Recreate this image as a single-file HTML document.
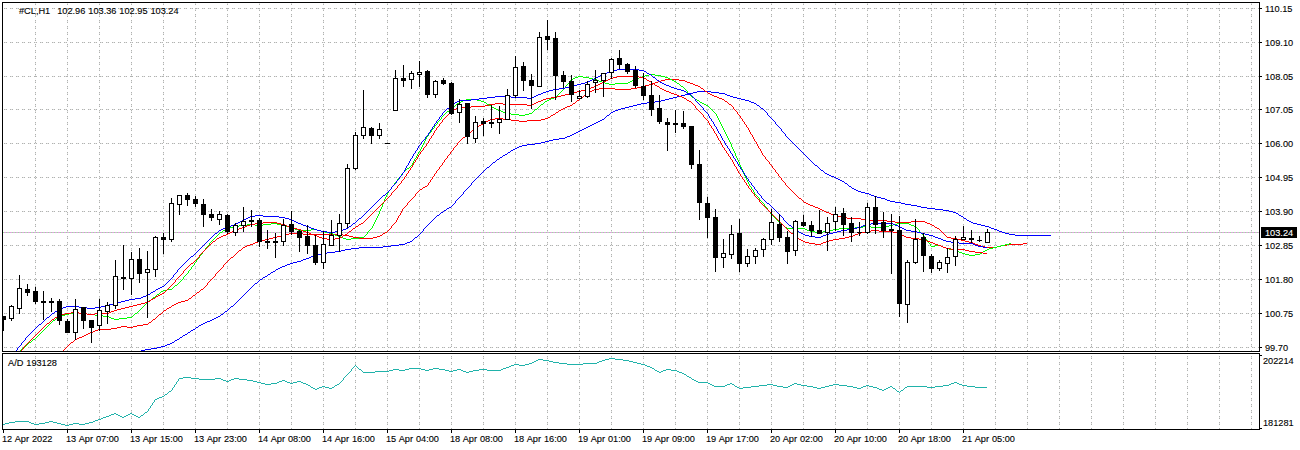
<!DOCTYPE html>
<html><head><meta charset="utf-8"><title>#CL,H1</title>
<style>
html,body{margin:0;padding:0;background:#fff;}
body{width:1300px;height:450px;overflow:hidden;position:relative;font-family:"Liberation Sans",sans-serif;}
svg{position:absolute;left:0;top:0;display:block;}
text{font-family:"Liberation Sans",sans-serif;font-size:9.8px;fill:#000;stroke:#000;stroke-width:0.12px;word-spacing:0.4px;}
</style></head><body>
<svg width="1300" height="450" viewBox="0 0 1300 450">
<rect x="0" y="0" width="1300" height="450" fill="#fff"/>

<g shape-rendering="crispEdges" stroke="#e0e0e0" stroke-width="1" stroke-dasharray="3 3" fill="none">
<line x1="35.5" y1="2" x2="35.5" y2="429"/>
<line x1="67.5" y1="2" x2="67.5" y2="429"/>
<line x1="99.5" y1="2" x2="99.5" y2="429"/>
<line x1="131.5" y1="2" x2="131.5" y2="429"/>
<line x1="163.5" y1="2" x2="163.5" y2="429"/>
<line x1="195.5" y1="2" x2="195.5" y2="429"/>
<line x1="227.5" y1="2" x2="227.5" y2="429"/>
<line x1="259.5" y1="2" x2="259.5" y2="429"/>
<line x1="291.5" y1="2" x2="291.5" y2="429"/>
<line x1="323.5" y1="2" x2="323.5" y2="429"/>
<line x1="355.5" y1="2" x2="355.5" y2="429"/>
<line x1="387.5" y1="2" x2="387.5" y2="429"/>
<line x1="419.5" y1="2" x2="419.5" y2="429"/>
<line x1="451.5" y1="2" x2="451.5" y2="429"/>
<line x1="483.5" y1="2" x2="483.5" y2="429"/>
<line x1="515.5" y1="2" x2="515.5" y2="429"/>
<line x1="547.5" y1="2" x2="547.5" y2="429"/>
<line x1="579.5" y1="2" x2="579.5" y2="429"/>
<line x1="611.5" y1="2" x2="611.5" y2="429"/>
<line x1="643.5" y1="2" x2="643.5" y2="429"/>
<line x1="675.5" y1="2" x2="675.5" y2="429"/>
<line x1="707.5" y1="2" x2="707.5" y2="429"/>
<line x1="739.5" y1="2" x2="739.5" y2="429"/>
<line x1="771.5" y1="2" x2="771.5" y2="429"/>
<line x1="803.5" y1="2" x2="803.5" y2="429"/>
<line x1="835.5" y1="2" x2="835.5" y2="429"/>
<line x1="867.5" y1="2" x2="867.5" y2="429"/>
<line x1="899.5" y1="2" x2="899.5" y2="429"/>
<line x1="931.5" y1="2" x2="931.5" y2="429"/>
<line x1="963.5" y1="2" x2="963.5" y2="429"/>
<line x1="995.5" y1="2" x2="995.5" y2="429"/>
<line x1="1027.5" y1="2" x2="1027.5" y2="429"/>
<line x1="1059.5" y1="2" x2="1059.5" y2="429"/>
<line x1="1091.5" y1="2" x2="1091.5" y2="429"/>
<line x1="1123.5" y1="2" x2="1123.5" y2="429"/>
<line x1="1155.5" y1="2" x2="1155.5" y2="429"/>
<line x1="1187.5" y1="2" x2="1187.5" y2="429"/>
<line x1="1219.5" y1="2" x2="1219.5" y2="429"/>
<line x1="1251.5" y1="2" x2="1251.5" y2="429"/>
<line x1="4" y1="8.5" x2="1259" y2="8.5"/>
<line x1="4" y1="42.5" x2="1259" y2="42.5"/>
<line x1="4" y1="76.5" x2="1259" y2="76.5"/>
<line x1="4" y1="109.5" x2="1259" y2="109.5"/>
<line x1="4" y1="143.5" x2="1259" y2="143.5"/>
<line x1="4" y1="177.5" x2="1259" y2="177.5"/>
<line x1="4" y1="211.5" x2="1259" y2="211.5"/>
<line x1="4" y1="245.5" x2="1259" y2="245.5"/>
<line x1="4" y1="279.5" x2="1259" y2="279.5"/>
<line x1="4" y1="313.5" x2="1259" y2="313.5"/>
<line x1="4" y1="347.5" x2="1259" y2="347.5"/>
</g>
<g shape-rendering="crispEdges" stroke="#b0b2b0" stroke-width="1" stroke-dasharray="1 1 1 3" fill="none">
<line x1="35.5" y1="2" x2="35.5" y2="429"/>
<line x1="67.5" y1="2" x2="67.5" y2="429"/>
<line x1="99.5" y1="2" x2="99.5" y2="429"/>
<line x1="131.5" y1="2" x2="131.5" y2="429"/>
<line x1="163.5" y1="2" x2="163.5" y2="429"/>
<line x1="195.5" y1="2" x2="195.5" y2="429"/>
<line x1="227.5" y1="2" x2="227.5" y2="429"/>
<line x1="259.5" y1="2" x2="259.5" y2="429"/>
<line x1="291.5" y1="2" x2="291.5" y2="429"/>
<line x1="323.5" y1="2" x2="323.5" y2="429"/>
<line x1="355.5" y1="2" x2="355.5" y2="429"/>
<line x1="387.5" y1="2" x2="387.5" y2="429"/>
<line x1="419.5" y1="2" x2="419.5" y2="429"/>
<line x1="451.5" y1="2" x2="451.5" y2="429"/>
<line x1="483.5" y1="2" x2="483.5" y2="429"/>
<line x1="515.5" y1="2" x2="515.5" y2="429"/>
<line x1="547.5" y1="2" x2="547.5" y2="429"/>
<line x1="579.5" y1="2" x2="579.5" y2="429"/>
<line x1="611.5" y1="2" x2="611.5" y2="429"/>
<line x1="643.5" y1="2" x2="643.5" y2="429"/>
<line x1="675.5" y1="2" x2="675.5" y2="429"/>
<line x1="707.5" y1="2" x2="707.5" y2="429"/>
<line x1="739.5" y1="2" x2="739.5" y2="429"/>
<line x1="771.5" y1="2" x2="771.5" y2="429"/>
<line x1="803.5" y1="2" x2="803.5" y2="429"/>
<line x1="835.5" y1="2" x2="835.5" y2="429"/>
<line x1="867.5" y1="2" x2="867.5" y2="429"/>
<line x1="899.5" y1="2" x2="899.5" y2="429"/>
<line x1="931.5" y1="2" x2="931.5" y2="429"/>
<line x1="963.5" y1="2" x2="963.5" y2="429"/>
<line x1="995.5" y1="2" x2="995.5" y2="429"/>
<line x1="1027.5" y1="2" x2="1027.5" y2="429"/>
<line x1="1059.5" y1="2" x2="1059.5" y2="429"/>
<line x1="1091.5" y1="2" x2="1091.5" y2="429"/>
<line x1="1123.5" y1="2" x2="1123.5" y2="429"/>
<line x1="1155.5" y1="2" x2="1155.5" y2="429"/>
<line x1="1187.5" y1="2" x2="1187.5" y2="429"/>
<line x1="1219.5" y1="2" x2="1219.5" y2="429"/>
<line x1="1251.5" y1="2" x2="1251.5" y2="429"/>
<line x1="4" y1="8.5" x2="1259" y2="8.5"/>
<line x1="4" y1="42.5" x2="1259" y2="42.5"/>
<line x1="4" y1="76.5" x2="1259" y2="76.5"/>
<line x1="4" y1="109.5" x2="1259" y2="109.5"/>
<line x1="4" y1="143.5" x2="1259" y2="143.5"/>
<line x1="4" y1="177.5" x2="1259" y2="177.5"/>
<line x1="4" y1="211.5" x2="1259" y2="211.5"/>
<line x1="4" y1="245.5" x2="1259" y2="245.5"/>
<line x1="4" y1="279.5" x2="1259" y2="279.5"/>
<line x1="4" y1="313.5" x2="1259" y2="313.5"/>
<line x1="4" y1="347.5" x2="1259" y2="347.5"/>
</g>
<rect x="0" y="352" width="1300" height="1" fill="#fff" shape-rendering="crispEdges"/>
<rect x="3" y="232" width="1256" height="1" fill="#dca4dc" shape-rendering="crispEdges"/>
<line x1="3" y1="232.5" x2="1259" y2="232.5" stroke="#98e498" stroke-width="1" stroke-dasharray="1 2" shape-rendering="crispEdges"/>
<path d="M697 91h14M693 92h4M711 92h8M689 93h4M719 93h6M685 94h4M725 94h2M681 95h4M727 95h3M677 96h4M730 96h3M673 97h4M733 97h4M669 98h4M737 98h4M665 99h4M741 99h4M661 100h4M745 100h4M655 101h6M749 101h2M647 102h8M751 102h3M641 103h6M754 103h2M637 104h4M756 104h1M633 105h4M757 105h2M629 106h4M759 106h1M625 107h4M760 107h1M621 108h4M761 108h2M618 109h3M763 109h1M615 110h3M764 110h1M613 111h2M765 111h1M611 112h2M766 112h1M610 113h1M767 113h1M609 114h1M767 114h1M607 115h2M768 115h1M606 116h1M769 116h1M605 117h1M770 117h1M604 118h1M771 118h1M602 119h2M772 119h1M600 120h2M773 120h1M598 121h2M774 121h1M596 122h2M775 122h1M594 123h2M775 123h1M592 124h2M776 124h1M590 125h2M777 125h1M588 126h2M778 126h1M586 127h2M779 127h1M584 128h2M780 128h1M582 129h2M781 129h1M580 130h2M781 130h1M578 131h2M782 131h1M576 132h2M783 132h1M574 133h2M784 133h1M572 134h2M785 134h1M570 135h2M785 135h1M567 136h3M786 136h1M565 137h2M787 137h1M559 138h6M788 138h1M553 139h6M789 139h1M549 140h4M790 140h1M545 141h4M791 141h1M541 142h4M792 142h1M535 143h6M793 143h1M527 144h8M794 144h1M522 145h5M795 145h1M519 146h3M796 146h1M517 147h2M797 147h1M515 148h2M798 148h1M513 149h2M799 149h1M511 150h2M800 150h1M510 151h1M801 151h1M508 152h2M802 152h1M507 153h1M803 153h1M505 154h2M804 154h1M503 155h2M805 155h1M502 156h1M806 156h1M500 157h2M807 157h1M499 158h1M808 158h1M497 159h2M809 159h1M496 160h1M810 160h1M495 161h1M811 161h1M493 162h2M812 162h1M492 163h1M813 163h1M491 164h1M814 164h1M490 165h1M815 165h2M489 166h1M817 166h1M487 167h2M818 167h1M486 168h1M819 168h1M485 169h1M820 169h1M484 170h1M821 170h2M483 171h1M823 171h1M482 172h1M824 172h1M481 173h1M825 173h2M480 174h1M827 174h2M479 175h1M829 175h2M478 176h1M831 176h3M477 177h1M834 177h2M476 178h1M836 178h2M475 179h1M838 179h2M474 180h1M840 180h2M473 181h1M842 181h2M472 182h1M844 182h1M471 183h1M845 183h2M471 184h1M847 184h1M470 185h1M848 185h1M469 186h1M849 186h2M468 187h1M851 187h1M467 188h1M852 188h2M466 189h1M854 189h2M465 190h1M856 190h2M464 191h1M858 191h3M463 192h1M861 192h4M463 193h1M865 193h4M462 194h1M869 194h2M461 195h1M871 195h3M460 196h1M874 196h3M459 197h1M877 197h4M458 198h1M881 198h4M457 199h1M885 199h2M456 200h1M887 200h3M455 201h1M890 201h5M455 202h1M895 202h6M454 203h1M901 203h4M453 204h1M905 204h6M452 205h1M911 205h6M451 206h1M917 206h4M449 207h2M921 207h6M447 208h2M927 208h8M446 209h1M935 209h8M444 210h2M943 210h6M443 211h1M949 211h4M441 212h2M953 212h3M440 213h1M956 213h2M439 214h1M958 214h1M437 215h2M959 215h2M436 216h1M961 216h2M435 217h1M963 217h1M434 218h1M964 218h2M433 219h1M966 219h1M432 220h1M967 220h2M431 221h1M969 221h2M430 222h1M971 222h2M429 223h1M973 223h4M428 224h1M977 224h4M427 225h1M981 225h4M426 226h1M985 226h4M425 227h1M989 227h2M424 228h1M991 228h3M423 229h1M994 229h3M423 230h1M997 230h2M422 231h1M999 231h3M421 232h1M1002 232h3M420 233h1M1005 233h4M419 234h1M1009 234h6M418 235h1M1015 235h36M417 236h1M415 237h2M414 238h1M413 239h1M412 240h1M410 241h2M407 242h3M405 243h2M399 244h6M391 245h8M383 246h8M359 247h24M351 248h8M345 249h6M341 250h4M335 251h6M327 252h8M321 253h6M317 254h4M314 255h3M311 256h3M309 257h2M306 258h3M303 259h3M301 260h2M297 261h4M293 262h4M290 263h3M287 264h3M285 265h2M282 266h3M280 267h2M278 268h2M276 269h2M275 270h1M273 271h2M271 272h2M270 273h1M268 274h2M267 275h1M265 276h2M263 277h2M262 278h1M260 279h2M259 280h1M258 281h1M257 282h1M255 283h2M254 284h1M253 285h1M252 286h1M251 287h1M250 288h1M249 289h1M248 290h1M247 291h1M246 292h1M245 293h1M244 294h1M243 295h1M242 296h1M241 297h1M240 298h1M239 299h1M238 300h1M237 301h1M236 302h1M235 303h1M234 304h1M233 305h1M231 306h2M230 307h1M229 308h1M228 309h1M227 310h1M225 311h2M224 312h1M223 313h1M221 314h2M220 315h1M218 316h2M216 317h2M214 318h2M212 319h2M210 320h2M207 321h3M205 322h2M203 323h2M201 324h2M199 325h2M198 326h1M196 327h2M195 328h1M193 329h2M191 330h2M190 331h1M188 332h2M187 333h1M185 334h2M183 335h2M182 336h1M180 337h2M179 338h1M177 339h2M175 340h2M174 341h1M172 342h2M170 343h2M167 344h3M165 345h2M161 346h4M157 347h4M151 348h6M145 349h6M141 350h4" stroke="#0000ff" stroke-width="1" fill="none" shape-rendering="crispEdges" transform="translate(0,0.5)"/>
<path d="M665 79h14M661 80h4M679 80h6M658 81h3M685 81h2M655 82h3M687 82h3M653 83h2M690 83h3M649 84h4M693 84h2M645 85h4M695 85h3M641 86h4M698 86h2M637 87h4M700 87h1M599 88h16M631 88h6M701 88h2M594 89h5M615 89h16M703 89h1M592 90h2M704 90h1M590 91h2M705 91h2M588 92h2M707 92h1M587 93h1M708 93h2M585 94h2M710 94h2M584 95h1M712 95h2M583 96h1M714 96h3M581 97h2M717 97h2M580 98h1M719 98h3M579 99h1M722 99h2M577 100h2M724 100h1M576 101h1M725 101h2M575 102h1M727 102h1M573 103h2M728 103h1M572 104h1M729 104h2M570 105h2M731 105h1M567 106h3M732 106h1M565 107h2M733 107h1M563 108h2M733 108h1M561 109h2M734 109h1M559 110h2M735 110h1M558 111h1M736 111h1M556 112h2M737 112h1M555 113h1M737 113h1M553 114h2M738 114h1M551 115h2M739 115h1M550 116h1M740 116h1M548 117h2M740 117h1M495 118h8M545 118h3M741 118h1M490 119h5M503 119h8M541 119h4M742 119h1M488 120h2M511 120h8M527 120h14M742 120h1M486 121h2M519 121h8M743 121h1M484 122h2M744 122h1M483 123h1M744 123h1M481 124h2M745 124h1M479 125h2M746 125h1M478 126h1M746 126h1M476 127h2M747 127h1M475 128h1M748 128h1M473 129h2M748 129h1M472 130h1M749 130h1M471 131h1M749 131h1M469 132h2M750 132h1M468 133h1M750 133h1M467 134h1M751 134h1M466 135h1M752 135h1M465 136h1M752 136h1M463 137h2M753 137h1M462 138h1M753 138h1M461 139h1M754 139h1M460 140h1M754 140h1M459 141h1M755 141h1M458 142h1M756 142h1M457 143h1M756 143h1M457 144h1M757 144h1M456 145h1M757 145h1M455 146h1M758 146h1M454 147h1M758 147h1M453 148h1M759 148h1M453 149h1M760 149h1M452 150h1M760 150h1M451 151h1M761 151h1M450 152h1M761 152h1M450 153h1M762 153h1M449 154h1M762 154h1M448 155h1M763 155h1M447 156h1M764 156h1M447 157h1M765 157h1M446 158h1M765 158h1M445 159h1M766 159h1M444 160h1M767 160h1M444 161h1M768 161h1M443 162h1M769 162h1M442 163h1M769 163h1M442 164h1M770 164h1M441 165h1M771 165h1M440 166h1M772 166h1M439 167h1M772 167h1M439 168h1M773 168h1M438 169h1M774 169h1M437 170h1M775 170h1M436 171h1M775 171h1M436 172h1M776 172h1M435 173h1M777 173h1M434 174h1M778 174h1M434 175h1M778 175h1M433 176h1M779 176h1M432 177h1M780 177h1M432 178h1M781 178h1M431 179h1M781 179h1M430 180h1M782 180h1M430 181h1M783 181h1M429 182h1M784 182h1M428 183h1M785 183h1M428 184h1M785 184h1M427 185h1M786 185h1M425 186h2M787 186h1M423 187h2M788 187h1M422 188h1M789 188h1M420 189h2M790 189h1M419 190h1M791 190h1M418 191h1M792 191h1M417 192h1M793 192h1M416 193h1M794 193h1M415 194h1M795 194h1M415 195h1M796 195h1M414 196h1M797 196h1M413 197h1M798 197h1M412 198h1M799 198h2M411 199h1M801 199h1M410 200h1M802 200h1M409 201h1M803 201h1M408 202h1M804 202h2M407 203h1M806 203h2M407 204h1M808 204h2M406 205h1M810 205h3M405 206h1M813 206h2M404 207h1M815 207h3M403 208h1M818 208h2M402 209h1M820 209h2M402 210h1M822 210h2M401 211h1M824 211h2M401 212h1M826 212h3M400 213h1M829 213h2M400 214h1M831 214h3M399 215h1M834 215h3M398 216h1M837 216h4M398 217h1M841 217h6M397 218h1M847 218h14M397 219h1M861 219h4M396 220h1M865 220h22M396 221h1M887 221h8M911 221h14M395 222h1M895 222h16M925 222h2M394 223h1M927 223h3M393 224h1M930 224h2M392 225h1M932 225h2M391 226h1M934 226h1M391 227h1M935 227h2M390 228h1M937 228h2M389 229h1M939 229h1M388 230h1M940 230h1M387 231h1M941 231h1M385 232h2M942 232h1M289 233h14M383 233h2M943 233h1M285 234h4M303 234h40M382 234h1M944 234h1M281 235h4M343 235h6M380 235h2M945 235h1M277 236h4M349 236h4M377 236h3M946 236h1M273 237h4M353 237h6M373 237h4M947 237h4M269 238h4M359 238h14M951 238h6M265 239h4M957 239h4M261 240h4M961 240h4M258 241h3M965 241h4M255 242h3M969 242h4M253 243h2M973 243h2M1023 243h4M250 244h3M975 244h3M1007 244h16M247 245h3M978 245h3M1001 245h6M245 246h2M981 246h4M997 246h4M243 247h2M985 247h12M242 248h1M241 249h1M239 250h2M238 251h1M237 252h1M236 253h1M235 254h1M234 255h1M233 256h1M231 257h2M230 258h1M229 259h1M228 260h1M227 261h1M226 262h1M225 263h1M224 264h1M223 265h1M223 266h1M222 267h1M221 268h1M220 269h1M219 270h1M218 271h1M217 272h1M216 273h1M215 274h1M215 275h1M214 276h1M213 277h1M212 278h1M211 279h1M210 280h1M209 281h1M208 282h1M207 283h1M207 284h1M206 285h1M205 286h1M204 287h1M203 288h1M201 289h2M200 290h1M199 291h1M197 292h2M196 293h1M195 294h1M193 295h2M192 296h1M191 297h1M189 298h2M188 299h1M185 300h3M181 301h4M178 302h3M176 303h2M174 304h2M172 305h2M171 306h1M169 307h2M167 308h2M166 309h1M164 310h2M163 311h1M162 312h1M161 313h1M159 314h2M158 315h1M157 316h1M156 317h1M155 318h1M153 319h2M152 320h1M151 321h1M149 322h2M148 323h1M143 324h5M137 325h6M121 326h6M133 326h4M117 327h4M127 327h6M111 328h6M98 329h13M95 330h3M93 331h2M90 332h3M88 333h2M86 334h2M84 335h2M82 336h2M79 337h3M77 338h2M75 339h2M74 340h1M73 341h1M71 342h2M70 343h1M69 344h1M68 345h1M67 346h1M66 347h1M65 348h1M64 349h1M63 350h1" stroke="#ff0000" stroke-width="1" fill="none" shape-rendering="crispEdges" transform="translate(0,0.5)"/>
<path d="M649 74h6M645 75h4M655 75h6M578 76h5M642 76h3M661 76h4M575 77h3M583 77h6M639 77h3M665 77h3M573 78h2M589 78h4M637 78h2M668 78h2M571 79h2M593 79h4M634 79h3M670 79h2M570 80h1M597 80h2M632 80h2M672 80h2M569 81h1M599 81h3M630 81h2M674 81h2M569 82h1M602 82h3M628 82h2M676 82h1M568 83h1M605 83h4M615 83h13M677 83h2M567 84h1M609 84h6M679 84h1M566 85h1M680 85h1M565 86h1M681 86h2M565 87h1M683 87h1M564 88h1M684 88h1M563 89h1M685 89h1M562 90h1M686 90h1M561 91h1M687 91h1M560 92h1M687 92h1M559 93h1M688 93h1M558 94h1M689 94h1M557 95h1M690 95h1M556 96h1M691 96h1M554 97h2M692 97h2M551 98h3M694 98h1M466 99h11M549 99h2M695 99h2M463 100h3M477 100h4M547 100h2M697 100h2M461 101h2M481 101h3M545 101h2M699 101h1M459 102h2M484 102h2M544 102h1M700 102h2M457 103h2M486 103h1M543 103h1M702 103h2M456 104h1M487 104h2M541 104h2M704 104h2M455 105h1M489 105h2M540 105h1M706 105h2M453 106h2M491 106h1M539 106h1M708 106h1M452 107h1M492 107h2M538 107h1M709 107h1M451 108h1M494 108h2M537 108h1M710 108h1M450 109h1M496 109h2M535 109h2M711 109h1M449 110h1M498 110h3M534 110h1M712 110h1M447 111h2M501 111h2M533 111h1M713 111h1M446 112h1M503 112h3M532 112h1M714 112h1M445 113h1M506 113h5M529 113h3M715 113h1M444 114h1M511 114h8M525 114h4M716 114h1M443 115h1M519 115h6M716 115h1M442 116h1M717 116h1M441 117h1M717 117h1M441 118h1M718 118h1M440 119h1M718 119h1M439 120h1M719 120h1M438 121h1M719 121h1M437 122h1M720 122h1M437 123h1M720 123h1M436 124h1M721 124h1M435 125h1M721 125h1M434 126h1M722 126h1M434 127h1M722 127h1M433 128h1M723 128h1M432 129h1M723 129h1M431 130h1M724 130h1M431 131h1M724 131h1M430 132h1M725 132h1M429 133h1M725 133h1M428 134h1M726 134h1M428 135h1M726 135h1M427 136h1M727 136h1M426 137h1M727 137h1M426 138h1M728 138h1M425 139h1M728 139h1M425 140h1M729 140h1M424 141h1M729 141h1M424 142h1M730 142h1M423 143h1M730 143h1M423 144h1M731 144h1M422 145h1M731 145h1M422 146h1M731 146h1M421 147h1M732 147h1M421 148h1M732 148h1M420 149h1M733 149h1M420 150h1M733 150h1M419 151h1M734 151h1M418 152h1M734 152h1M418 153h1M735 153h1M417 154h1M735 154h1M417 155h1M735 155h1M416 156h1M736 156h1M416 157h1M736 157h1M415 158h1M737 158h1M414 159h1M737 159h1M414 160h1M738 160h1M413 161h1M738 161h1M413 162h1M739 162h1M412 163h1M739 163h1M412 164h1M739 164h1M411 165h1M740 165h1M410 166h1M740 166h1M409 167h1M741 167h1M407 168h2M741 168h1M406 169h1M742 169h1M405 170h1M742 170h1M404 171h1M743 171h1M403 172h1M743 172h1M402 173h1M743 173h1M401 174h1M744 174h1M401 175h1M744 175h1M400 176h1M745 176h1M399 177h1M745 177h1M398 178h1M746 178h1M397 179h1M746 179h1M397 180h1M747 180h1M396 181h1M747 181h1M395 182h1M748 182h1M394 183h1M748 183h1M394 184h1M749 184h1M393 185h1M749 185h1M392 186h1M750 186h1M391 187h1M751 187h1M391 188h1M751 188h1M390 189h1M752 189h1M389 190h1M753 190h1M388 191h1M753 191h1M388 192h1M754 192h1M387 193h1M754 193h1M387 194h1M755 194h1M386 195h1M756 195h1M386 196h1M757 196h1M385 197h1M758 197h1M385 198h1M759 198h1M384 199h1M759 199h1M384 200h1M760 200h1M384 201h1M761 201h1M383 202h1M762 202h1M383 203h1M763 203h1M382 204h1M764 204h1M382 205h1M764 205h1M382 206h1M765 206h1M381 207h1M766 207h1M381 208h1M767 208h1M380 209h1M767 209h1M380 210h1M768 210h1M379 211h1M769 211h1M379 212h1M770 212h1M379 213h1M770 213h1M378 214h1M771 214h1M378 215h1M772 215h1M377 216h1M773 216h1M377 217h1M774 217h1M376 218h1M775 218h1M376 219h1M776 219h1M375 220h1M777 220h1M375 221h1M778 221h1M374 222h1M779 222h1M271 223h6M374 223h1M780 223h1M897 223h12M247 224h8M263 224h8M277 224h4M373 224h1M781 224h2M893 224h4M909 224h2M239 225h8M255 225h8M281 225h4M373 225h1M783 225h1M889 225h4M911 225h3M233 226h6M285 226h4M372 226h1M784 226h1M863 226h8M885 226h4M914 226h2M229 227h4M289 227h4M372 227h1M785 227h2M855 227h8M871 227h14M916 227h1M227 228h2M293 228h2M371 228h1M787 228h18M839 228h16M917 228h1M225 229h2M295 229h3M311 229h6M370 229h1M805 229h2M833 229h6M918 229h1M223 230h2M298 230h13M317 230h4M369 230h1M807 230h3M829 230h4M919 230h1M222 231h1M321 231h4M368 231h1M810 231h5M823 231h6M919 231h1M220 232h2M325 232h4M367 232h1M815 232h8M920 232h1M219 233h1M329 233h4M367 233h1M921 233h1M218 234h1M333 234h2M366 234h1M922 234h1M217 235h1M335 235h3M365 235h1M923 235h1M216 236h1M338 236h3M364 236h1M924 236h1M215 237h1M341 237h2M359 237h5M924 237h1M214 238h1M343 238h3M351 238h8M925 238h1M213 239h1M346 239h5M926 239h1M212 240h1M927 240h1M211 241h1M927 241h1M210 242h1M928 242h1M209 243h1M929 243h1M1009 243h2M209 244h1M930 244h1M1005 244h4M208 245h1M930 245h1M935 245h6M1001 245h4M207 246h1M931 246h4M941 246h2M997 246h4M206 247h1M943 247h3M993 247h4M205 248h1M946 248h3M989 248h4M205 249h1M949 249h4M987 249h2M204 250h1M953 250h4M985 250h2M203 251h1M957 251h2M983 251h2M202 252h1M959 252h3M982 252h1M202 253h1M962 253h3M980 253h2M201 254h1M965 254h4M975 254h5M200 255h1M969 255h6M199 256h1M199 257h1M198 258h1M197 259h1M196 260h1M196 261h1M195 262h1M194 263h1M194 264h1M193 265h1M192 266h1M191 267h1M191 268h1M190 269h1M189 270h1M188 271h1M188 272h1M187 273h1M186 274h1M185 275h1M184 276h1M183 277h1M183 278h1M182 279h1M181 280h1M180 281h1M179 282h1M178 283h1M177 284h1M175 285h2M174 286h1M173 287h1M172 288h1M167 289h5M163 290h4M161 291h2M160 292h1M159 293h1M157 294h2M156 295h1M155 296h1M153 297h2M152 298h1M151 299h1M149 300h2M148 301h1M147 302h1M146 303h1M145 304h1M144 305h1M143 306h1M142 307h1M141 308h1M140 309h1M139 310h1M138 311h1M73 312h6M137 312h1M69 313h4M79 313h8M135 313h2M65 314h4M87 314h8M134 314h1M61 315h4M95 315h8M133 315h1M59 316h2M103 316h6M132 316h1M57 317h2M109 317h2M127 317h5M56 318h1M111 318h3M119 318h8M55 319h1M114 319h5M53 320h2M52 321h1M51 322h1M50 323h1M49 324h1M48 325h1M47 326h1M46 327h1M45 328h1M44 329h1M43 330h1M42 331h1M41 332h1M40 333h1M39 334h1M38 335h1M37 336h1M36 337h1M35 338h1M33 339h2M32 340h1M31 341h1M29 342h2M28 343h1M27 344h1M26 345h1M25 346h1M23 347h2M22 348h1M21 349h1M20 350h1" stroke="#00ff00" stroke-width="1" fill="none" shape-rendering="crispEdges" transform="translate(0,0.5)"/>
<path d="M617 76h22M613 77h4M639 77h5M610 78h3M644 78h2M608 79h2M646 79h1M606 80h2M647 80h2M604 81h2M649 81h2M602 82h2M651 82h1M600 83h2M652 83h2M598 84h2M654 84h1M596 85h2M655 85h2M594 86h2M657 86h2M591 87h3M659 87h1M589 88h2M660 88h2M585 89h4M662 89h2M581 90h4M664 90h2M577 91h4M666 91h3M573 92h4M669 92h2M569 93h4M671 93h3M565 94h4M674 94h3M561 95h4M677 95h2M557 96h4M679 96h3M551 97h6M682 97h2M546 98h5M684 98h2M543 99h3M686 99h1M541 100h2M687 100h2M538 101h3M689 101h2M536 102h2M691 102h1M495 103h8M534 103h2M692 103h1M489 104h6M503 104h24M532 104h2M693 104h1M485 105h4M527 105h5M694 105h1M471 106h14M695 106h1M458 107h13M695 107h1M456 108h2M696 108h1M454 109h2M697 109h1M452 110h2M698 110h1M451 111h1M699 111h1M450 112h1M700 112h1M449 113h1M701 113h1M448 114h1M702 114h1M447 115h1M703 115h1M446 116h1M703 116h1M445 117h1M704 117h1M444 118h1M705 118h1M443 119h1M706 119h1M442 120h1M707 120h1M442 121h1M708 121h1M441 122h1M708 122h1M440 123h1M709 123h1M439 124h1M709 124h1M439 125h1M710 125h1M438 126h1M711 126h1M437 127h1M711 127h1M436 128h1M712 128h1M436 129h1M713 129h1M435 130h1M713 130h1M434 131h1M714 131h1M434 132h1M714 132h1M433 133h1M715 133h1M433 134h1M716 134h1M432 135h1M716 135h1M431 136h1M717 136h1M431 137h1M717 137h1M430 138h1M718 138h1M429 139h1M718 139h1M429 140h1M719 140h1M428 141h1M720 141h1M428 142h1M720 142h1M427 143h1M721 143h1M426 144h1M721 144h1M426 145h1M722 145h1M425 146h1M722 146h1M424 147h1M723 147h1M423 148h1M724 148h1M423 149h1M724 149h1M422 150h1M725 150h1M421 151h1M726 151h1M420 152h1M726 152h1M420 153h1M727 153h1M419 154h1M728 154h1M418 155h1M728 155h1M418 156h1M729 156h1M417 157h1M730 157h1M417 158h1M730 158h1M416 159h1M731 159h1M415 160h1M732 160h1M415 161h1M732 161h1M414 162h1M733 162h1M413 163h1M733 163h1M413 164h1M734 164h1M412 165h1M734 165h1M412 166h1M735 166h1M411 167h1M736 167h1M410 168h1M736 168h1M410 169h1M737 169h1M409 170h1M737 170h1M408 171h1M738 171h1M408 172h1M738 172h1M407 173h1M739 173h1M406 174h1M740 174h1M406 175h1M740 175h1M405 176h1M741 176h1M404 177h1M742 177h1M404 178h1M742 178h1M403 179h1M743 179h1M402 180h1M744 180h1M401 181h1M744 181h1M401 182h1M745 182h1M400 183h1M746 183h1M399 184h1M746 184h1M398 185h1M747 185h1M397 186h1M748 186h1M397 187h1M748 187h1M396 188h1M749 188h1M395 189h1M750 189h1M394 190h1M751 190h1M393 191h1M751 191h1M392 192h1M752 192h1M391 193h1M753 193h1M391 194h1M754 194h1M390 195h1M754 195h1M389 196h1M755 196h1M388 197h1M756 197h1M387 198h1M757 198h1M386 199h1M758 199h1M385 200h1M759 200h1M384 201h1M759 201h1M383 202h1M760 202h1M382 203h1M761 203h1M381 204h1M762 204h1M380 205h1M763 205h1M379 206h1M764 206h1M378 207h1M765 207h1M377 208h1M766 208h1M376 209h1M767 209h1M375 210h1M768 210h1M374 211h1M769 211h1M373 212h1M770 212h1M372 213h1M771 213h1M371 214h1M772 214h1M370 215h1M773 215h1M369 216h1M774 216h1M368 217h1M775 217h1M367 218h1M776 218h1M366 219h1M777 219h1M365 220h1M778 220h1M364 221h1M779 221h1M263 222h14M363 222h1M780 222h1M255 223h8M277 223h4M361 223h2M781 223h1M250 224h5M281 224h4M359 224h2M782 224h1M247 225h3M285 225h2M358 225h1M783 225h1M245 226h2M287 226h3M356 226h2M784 226h1M242 227h3M290 227h3M355 227h1M785 227h1M239 228h3M293 228h4M353 228h2M786 228h1M237 229h2M297 229h4M352 229h1M787 229h1M234 230h3M301 230h2M351 230h1M788 230h1M871 230h8M232 231h2M303 231h3M349 231h2M789 231h1M865 231h6M879 231h14M230 232h2M306 232h3M348 232h1M790 232h1M861 232h4M893 232h4M228 233h2M309 233h2M347 233h1M791 233h2M858 233h3M897 233h3M226 234h2M311 234h3M345 234h2M793 234h1M855 234h3M900 234h2M223 235h3M314 235h3M343 235h2M794 235h1M853 235h2M902 235h2M221 236h2M317 236h2M342 236h1M795 236h1M849 236h4M904 236h2M219 237h2M319 237h3M340 237h2M796 237h2M845 237h4M906 237h5M217 238h2M322 238h5M335 238h5M798 238h1M839 238h6M911 238h8M216 239h1M327 239h8M799 239h2M833 239h6M919 239h6M215 240h1M801 240h2M829 240h4M925 240h2M213 241h2M803 241h2M826 241h3M927 241h3M212 242h1M805 242h4M823 242h3M930 242h3M211 243h1M809 243h6M821 243h2M933 243h2M210 244h1M815 244h6M935 244h3M209 245h1M938 245h3M208 246h1M941 246h2M207 247h1M943 247h3M206 248h1M946 248h5M205 249h1M951 249h14M204 250h1M965 250h4M203 251h1M969 251h6M202 252h1M975 252h8M201 253h1M983 253h4M200 254h1M199 255h1M199 256h1M198 257h1M197 258h1M196 259h1M195 260h1M194 261h1M193 262h1M191 263h2M190 264h1M189 265h1M188 266h1M187 267h1M186 268h1M185 269h1M184 270h1M183 271h1M183 272h1M182 273h1M181 274h1M180 275h1M179 276h1M178 277h1M177 278h1M176 279h1M175 280h1M175 281h1M174 282h1M173 283h1M172 284h1M171 285h1M170 286h1M169 287h1M168 288h1M167 289h1M166 290h1M165 291h1M164 292h1M162 293h2M160 294h2M158 295h2M156 296h2M155 297h1M153 298h2M151 299h2M150 300h1M148 301h2M145 302h3M141 303h4M137 304h4M133 305h4M129 306h4M125 307h4M121 308h4M117 309h4M114 310h3M111 311h3M71 312h8M109 312h2M65 313h6M79 313h8M95 313h14M61 314h4M87 314h8M59 315h2M57 316h2M55 317h2M54 318h1M52 319h2M51 320h1M50 321h1M49 322h1M47 323h2M46 324h1M45 325h1M44 326h1M43 327h1M42 328h1M41 329h1M40 330h1M39 331h1M38 332h1M37 333h1M36 334h1M35 335h1M34 336h1M33 337h1M32 338h1M31 339h1M30 340h1M29 341h1M28 342h1M27 343h1M26 344h1M25 345h1M24 346h1M23 347h1M23 348h1M22 349h1M21 350h1" stroke="#ff0000" stroke-width="1" fill="none" shape-rendering="crispEdges" transform="translate(0,0.5)"/>
<path d="M617 69h22M613 70h4M639 70h5M610 71h3M644 71h2M607 72h3M646 72h1M605 73h2M647 73h2M602 74h3M649 74h2M600 75h2M651 75h1M598 76h2M652 76h1M596 77h2M653 77h2M594 78h2M655 78h1M592 79h2M656 79h1M590 80h2M657 80h2M588 81h2M659 81h1M585 82h3M660 82h2M581 83h4M662 83h2M577 84h4M664 84h2M573 85h4M666 85h3M569 86h4M669 86h2M565 87h4M671 87h3M559 88h6M674 88h3M553 89h6M677 89h4M549 90h4M681 90h3M546 91h3M684 91h2M543 92h3M686 92h1M541 93h2M687 93h2M538 94h3M689 94h2M536 95h2M691 95h1M495 96h16M534 96h2M692 96h1M487 97h8M511 97h16M532 97h2M693 97h1M479 98h8M527 98h5M694 98h1M471 99h8M695 99h1M459 100h12M695 100h1M457 101h2M696 101h1M455 102h2M697 102h1M454 103h1M698 103h1M452 104h2M699 104h1M451 105h1M700 105h1M450 106h1M701 106h1M449 107h1M702 107h1M447 108h2M703 108h1M446 109h1M703 109h1M445 110h1M704 110h1M444 111h1M705 111h1M443 112h1M706 112h1M442 113h1M707 113h1M442 114h1M708 114h1M441 115h1M708 115h1M440 116h1M709 116h1M439 117h1M709 117h1M439 118h1M710 118h1M438 119h1M711 119h1M437 120h1M711 120h1M436 121h1M712 121h1M436 122h1M713 122h1M435 123h1M713 123h1M434 124h1M714 124h1M434 125h1M714 125h1M433 126h1M715 126h1M432 127h1M716 127h1M432 128h1M716 128h1M431 129h1M717 129h1M430 130h1M717 130h1M430 131h1M718 131h1M429 132h1M718 132h1M428 133h1M719 133h1M428 134h1M720 134h1M427 135h1M720 135h1M426 136h1M721 136h1M425 137h1M721 137h1M425 138h1M722 138h1M424 139h1M722 139h1M423 140h1M723 140h1M422 141h1M724 141h1M421 142h1M724 142h1M421 143h1M725 143h1M420 144h1M725 144h1M419 145h1M726 145h1M418 146h1M727 146h1M418 147h1M727 147h1M417 148h1M728 148h1M417 149h1M729 149h1M416 150h1M729 150h1M415 151h1M730 151h1M415 152h1M730 152h1M414 153h1M731 153h1M413 154h1M732 154h1M413 155h1M732 155h1M412 156h1M733 156h1M412 157h1M733 157h1M411 158h1M734 158h1M410 159h1M735 159h1M410 160h1M735 160h1M409 161h1M736 161h1M409 162h1M737 162h1M408 163h1M737 163h1M408 164h1M738 164h1M407 165h1M738 165h1M406 166h1M739 166h1M406 167h1M740 167h1M405 168h1M740 168h1M405 169h1M741 169h1M404 170h1M742 170h1M404 171h1M742 171h1M403 172h1M743 172h1M402 173h1M744 173h1M402 174h1M744 174h1M401 175h1M745 175h1M400 176h1M746 176h1M399 177h1M746 177h1M399 178h1M747 178h1M398 179h1M748 179h1M397 180h1M748 180h1M396 181h1M749 181h1M396 182h1M750 182h1M395 183h1M751 183h1M394 184h1M751 184h1M393 185h1M752 185h1M392 186h1M753 186h1M391 187h1M754 187h1M391 188h1M754 188h1M390 189h1M755 189h1M389 190h1M756 190h1M388 191h1M757 191h1M387 192h1M757 192h1M386 193h1M758 193h1M385 194h1M759 194h1M383 195h2M760 195h1M382 196h1M761 196h1M381 197h1M761 197h1M380 198h1M762 198h1M379 199h1M763 199h1M378 200h1M764 200h1M377 201h1M765 201h1M376 202h1M766 202h1M375 203h1M767 203h2M374 204h1M769 204h1M373 205h1M770 205h1M372 206h1M771 206h1M371 207h1M772 207h1M370 208h1M773 208h1M369 209h1M774 209h1M368 210h1M775 210h1M367 211h1M776 211h1M366 212h1M777 212h1M365 213h1M778 213h1M364 214h1M779 214h1M255 215h8M363 215h1M780 215h1M250 216h5M263 216h16M362 216h1M781 216h1M248 217h2M279 217h6M361 217h1M782 217h1M246 218h2M285 218h4M359 218h2M783 218h1M244 219h2M289 219h3M358 219h1M783 219h1M242 220h2M292 220h2M357 220h1M784 220h1M240 221h2M294 221h2M356 221h1M785 221h1M238 222h2M296 222h2M355 222h1M786 222h1M236 223h2M298 223h3M353 223h2M787 223h1M871 223h22M234 224h2M301 224h2M352 224h1M788 224h1M866 224h5M893 224h2M231 225h3M303 225h3M351 225h1M789 225h2M863 225h3M895 225h3M229 226h2M306 226h3M349 226h2M791 226h1M861 226h2M898 226h2M226 227h3M309 227h2M348 227h1M792 227h1M857 227h4M900 227h2M223 228h3M311 228h3M346 228h2M793 228h2M853 228h4M902 228h2M221 229h2M314 229h3M343 229h3M795 229h1M847 229h6M904 229h2M219 230h2M317 230h4M341 230h2M796 230h2M841 230h6M906 230h5M218 231h1M321 231h6M335 231h6M798 231h1M837 231h4M911 231h6M217 232h1M327 232h8M799 232h2M833 232h4M917 232h4M215 233h2M801 233h2M829 233h4M921 233h4M214 234h1M803 234h2M826 234h3M925 234h4M213 235h1M805 235h4M823 235h3M929 235h4M212 236h1M809 236h6M821 236h2M933 236h2M211 237h1M815 237h6M935 237h3M210 238h1M938 238h3M209 239h1M941 239h2M208 240h1M943 240h3M207 241h1M946 241h5M206 242h1M951 242h8M205 243h1M959 243h14M204 244h1M973 244h2M203 245h1M975 245h3M202 246h1M978 246h5M201 247h1M983 247h4M200 248h1M199 249h1M198 250h1M197 251h1M196 252h1M195 253h1M194 254h1M193 255h1M191 256h2M190 257h1M189 258h1M188 259h1M187 260h1M186 261h1M185 262h1M184 263h1M183 264h1M182 265h1M181 266h1M180 267h1M179 268h1M178 269h1M177 270h1M177 271h1M176 272h1M175 273h1M174 274h1M173 275h1M173 276h1M172 277h1M171 278h1M170 279h1M169 280h1M168 281h1M167 282h1M166 283h1M165 284h1M164 285h1M162 286h2M160 287h2M158 288h2M156 289h2M155 290h1M153 291h2M151 292h2M150 293h1M148 294h2M146 295h2M143 296h3M141 297h2M135 298h6M129 299h6M125 300h4M121 301h4M117 302h4M113 303h4M109 304h4M105 305h4M66 306h13M101 306h4M63 307h3M79 307h8M95 307h6M61 308h2M87 308h8M59 309h2M57 310h2M55 311h2M54 312h1M52 313h2M51 314h1M50 315h1M49 316h1M47 317h2M46 318h1M45 319h1M44 320h1M43 321h1M42 322h1M41 323h1M39 324h2M38 325h1M37 326h1M36 327h1M35 328h1M34 329h1M33 330h1M32 331h1M31 332h1M30 333h1M29 334h1M28 335h1M27 336h1M26 337h1M25 338h1M25 339h1M24 340h1M23 341h1M22 342h1M21 343h1M21 344h1M20 345h1M19 346h1M18 347h1M17 348h1M17 349h1M16 350h1" stroke="#0000ff" stroke-width="1" fill="none" shape-rendering="crispEdges" transform="translate(0,0.5)"/>
<clipPath id="cm"><rect x="3" y="3" width="1256" height="348"/></clipPath>
<g shape-rendering="crispEdges" clip-path="url(#cm)">
<rect x="3" y="316" width="1" height="15" fill="#000"/>
<rect x="1" y="316" width="5" height="4" fill="#000"/>
<rect x="11" y="305" width="1" height="16" fill="#000"/>
<rect x="9" y="306" width="5" height="13" fill="#000"/>
<rect x="10" y="307" width="3" height="11" fill="#fff"/>
<rect x="19" y="275" width="1" height="39" fill="#000"/>
<rect x="17" y="288" width="5" height="21" fill="#000"/>
<rect x="18" y="289" width="3" height="19" fill="#fff"/>
<rect x="27" y="284" width="1" height="12" fill="#000"/>
<rect x="25" y="289" width="5" height="4" fill="#000"/>
<rect x="35" y="287" width="1" height="17" fill="#000"/>
<rect x="33" y="291" width="5" height="11" fill="#000"/>
<rect x="43" y="291" width="1" height="29" fill="#000"/>
<rect x="41" y="301" width="5" height="2" fill="#000"/>
<rect x="51" y="298" width="1" height="14" fill="#000"/>
<rect x="49" y="301" width="5" height="2" fill="#000"/>
<rect x="59" y="299" width="1" height="26" fill="#000"/>
<rect x="57" y="301" width="5" height="20" fill="#000"/>
<rect x="67" y="319" width="1" height="14" fill="#000"/>
<rect x="65" y="321" width="5" height="12" fill="#000"/>
<rect x="75" y="299" width="1" height="41" fill="#000"/>
<rect x="73" y="309" width="5" height="24" fill="#000"/>
<rect x="74" y="310" width="3" height="22" fill="#fff"/>
<rect x="83" y="307" width="1" height="22" fill="#000"/>
<rect x="81" y="307" width="5" height="14" fill="#000"/>
<rect x="91" y="320" width="1" height="23" fill="#000"/>
<rect x="89" y="320" width="5" height="8" fill="#000"/>
<rect x="99" y="299" width="1" height="32" fill="#000"/>
<rect x="97" y="310" width="5" height="16" fill="#000"/>
<rect x="98" y="311" width="3" height="14" fill="#fff"/>
<rect x="107" y="302" width="1" height="22" fill="#000"/>
<rect x="105" y="305" width="5" height="7" fill="#000"/>
<rect x="106" y="306" width="3" height="5" fill="#fff"/>
<rect x="115" y="260" width="1" height="49" fill="#000"/>
<rect x="113" y="276" width="5" height="30" fill="#000"/>
<rect x="114" y="277" width="3" height="28" fill="#fff"/>
<rect x="123" y="245" width="1" height="45" fill="#000"/>
<rect x="121" y="277" width="5" height="2" fill="#000"/>
<rect x="131" y="252" width="1" height="43" fill="#000"/>
<rect x="129" y="259" width="5" height="20" fill="#000"/>
<rect x="130" y="260" width="3" height="18" fill="#fff"/>
<rect x="139" y="248" width="1" height="35" fill="#000"/>
<rect x="137" y="259" width="5" height="15" fill="#000"/>
<rect x="147" y="251" width="1" height="67" fill="#000"/>
<rect x="145" y="269" width="5" height="4" fill="#000"/>
<rect x="146" y="270" width="3" height="2" fill="#fff"/>
<rect x="155" y="236" width="1" height="41" fill="#000"/>
<rect x="153" y="237" width="5" height="33" fill="#000"/>
<rect x="154" y="238" width="3" height="31" fill="#fff"/>
<rect x="163" y="233" width="1" height="21" fill="#000"/>
<rect x="161" y="237" width="5" height="3" fill="#000"/>
<rect x="171" y="198" width="1" height="44" fill="#000"/>
<rect x="169" y="203" width="5" height="37" fill="#000"/>
<rect x="170" y="204" width="3" height="35" fill="#fff"/>
<rect x="179" y="195" width="1" height="20" fill="#000"/>
<rect x="177" y="195" width="5" height="10" fill="#000"/>
<rect x="178" y="196" width="3" height="8" fill="#fff"/>
<rect x="187" y="193" width="1" height="13" fill="#000"/>
<rect x="185" y="195" width="5" height="5" fill="#000"/>
<rect x="195" y="196" width="1" height="11" fill="#000"/>
<rect x="193" y="199" width="5" height="5" fill="#000"/>
<rect x="203" y="199" width="1" height="28" fill="#000"/>
<rect x="201" y="204" width="5" height="11" fill="#000"/>
<rect x="211" y="209" width="1" height="12" fill="#000"/>
<rect x="209" y="214" width="5" height="4" fill="#000"/>
<rect x="219" y="211" width="1" height="14" fill="#000"/>
<rect x="217" y="214" width="5" height="6" fill="#000"/>
<rect x="218" y="215" width="3" height="4" fill="#fff"/>
<rect x="227" y="214" width="1" height="20" fill="#000"/>
<rect x="225" y="215" width="5" height="17" fill="#000"/>
<rect x="235" y="223" width="1" height="13" fill="#000"/>
<rect x="233" y="225" width="5" height="8" fill="#000"/>
<rect x="234" y="226" width="3" height="6" fill="#fff"/>
<rect x="243" y="207" width="1" height="25" fill="#000"/>
<rect x="241" y="221" width="5" height="5" fill="#000"/>
<rect x="242" y="222" width="3" height="3" fill="#fff"/>
<rect x="251" y="210" width="1" height="17" fill="#000"/>
<rect x="249" y="220" width="5" height="2" fill="#000"/>
<rect x="259" y="218" width="1" height="29" fill="#000"/>
<rect x="257" y="220" width="5" height="22" fill="#000"/>
<rect x="267" y="230" width="1" height="19" fill="#000"/>
<rect x="265" y="241" width="5" height="2" fill="#000"/>
<rect x="275" y="233" width="1" height="25" fill="#000"/>
<rect x="273" y="241" width="5" height="2" fill="#000"/>
<rect x="283" y="219" width="1" height="27" fill="#000"/>
<rect x="281" y="225" width="5" height="17" fill="#000"/>
<rect x="282" y="226" width="3" height="15" fill="#fff"/>
<rect x="291" y="211" width="1" height="24" fill="#000"/>
<rect x="289" y="224" width="5" height="8" fill="#000"/>
<rect x="299" y="230" width="1" height="22" fill="#000"/>
<rect x="297" y="231" width="5" height="7" fill="#000"/>
<rect x="307" y="225" width="1" height="29" fill="#000"/>
<rect x="305" y="236" width="5" height="10" fill="#000"/>
<rect x="315" y="235" width="1" height="30" fill="#000"/>
<rect x="313" y="245" width="5" height="18" fill="#000"/>
<rect x="323" y="231" width="1" height="38" fill="#000"/>
<rect x="321" y="244" width="5" height="19" fill="#000"/>
<rect x="322" y="245" width="3" height="17" fill="#fff"/>
<rect x="331" y="220" width="1" height="26" fill="#000"/>
<rect x="329" y="235" width="5" height="11" fill="#000"/>
<rect x="330" y="236" width="3" height="9" fill="#fff"/>
<rect x="339" y="214" width="1" height="38" fill="#000"/>
<rect x="337" y="223" width="5" height="13" fill="#000"/>
<rect x="338" y="224" width="3" height="11" fill="#fff"/>
<rect x="347" y="164" width="1" height="64" fill="#000"/>
<rect x="345" y="168" width="5" height="56" fill="#000"/>
<rect x="346" y="169" width="3" height="54" fill="#fff"/>
<rect x="355" y="132" width="1" height="38" fill="#000"/>
<rect x="353" y="135" width="5" height="34" fill="#000"/>
<rect x="354" y="136" width="3" height="32" fill="#fff"/>
<rect x="363" y="90" width="1" height="49" fill="#000"/>
<rect x="361" y="127" width="5" height="9" fill="#000"/>
<rect x="362" y="128" width="3" height="7" fill="#fff"/>
<rect x="371" y="127" width="1" height="17" fill="#000"/>
<rect x="369" y="128" width="5" height="8" fill="#000"/>
<rect x="379" y="123" width="1" height="16" fill="#000"/>
<rect x="377" y="129" width="5" height="7" fill="#000"/>
<rect x="378" y="130" width="3" height="5" fill="#fff"/>
<rect x="387" y="143" width="1" height="1" fill="#000"/>
<rect x="385" y="143" width="5" height="1" fill="#000"/>
<rect x="395" y="70" width="1" height="41" fill="#000"/>
<rect x="393" y="78" width="5" height="33" fill="#000"/>
<rect x="394" y="79" width="3" height="31" fill="#fff"/>
<rect x="403" y="65" width="1" height="22" fill="#000"/>
<rect x="401" y="78" width="5" height="3" fill="#000"/>
<rect x="411" y="71" width="1" height="18" fill="#000"/>
<rect x="409" y="73" width="5" height="7" fill="#000"/>
<rect x="410" y="74" width="3" height="5" fill="#fff"/>
<rect x="419" y="61" width="1" height="26" fill="#000"/>
<rect x="417" y="72" width="5" height="3" fill="#000"/>
<rect x="418" y="73" width="3" height="1" fill="#fff"/>
<rect x="427" y="70" width="1" height="28" fill="#000"/>
<rect x="425" y="71" width="5" height="24" fill="#000"/>
<rect x="435" y="80" width="1" height="18" fill="#000"/>
<rect x="433" y="81" width="5" height="14" fill="#000"/>
<rect x="434" y="82" width="3" height="12" fill="#fff"/>
<rect x="443" y="78" width="1" height="7" fill="#000"/>
<rect x="441" y="80" width="5" height="4" fill="#000"/>
<rect x="451" y="82" width="1" height="33" fill="#000"/>
<rect x="449" y="83" width="5" height="31" fill="#000"/>
<rect x="459" y="99" width="1" height="24" fill="#000"/>
<rect x="457" y="104" width="5" height="9" fill="#000"/>
<rect x="458" y="105" width="3" height="7" fill="#fff"/>
<rect x="467" y="103" width="1" height="41" fill="#000"/>
<rect x="465" y="103" width="5" height="34" fill="#000"/>
<rect x="475" y="116" width="1" height="27" fill="#000"/>
<rect x="473" y="122" width="5" height="17" fill="#000"/>
<rect x="474" y="123" width="3" height="15" fill="#fff"/>
<rect x="483" y="118" width="1" height="18" fill="#000"/>
<rect x="481" y="121" width="5" height="3" fill="#000"/>
<rect x="491" y="105" width="1" height="23" fill="#000"/>
<rect x="489" y="122" width="5" height="2" fill="#000"/>
<rect x="499" y="106" width="1" height="28" fill="#000"/>
<rect x="497" y="119" width="5" height="4" fill="#000"/>
<rect x="498" y="120" width="3" height="2" fill="#fff"/>
<rect x="507" y="89" width="1" height="31" fill="#000"/>
<rect x="505" y="95" width="5" height="25" fill="#000"/>
<rect x="506" y="96" width="3" height="23" fill="#fff"/>
<rect x="515" y="56" width="1" height="42" fill="#000"/>
<rect x="513" y="67" width="5" height="29" fill="#000"/>
<rect x="514" y="68" width="3" height="27" fill="#fff"/>
<rect x="523" y="62" width="1" height="29" fill="#000"/>
<rect x="521" y="66" width="5" height="15" fill="#000"/>
<rect x="531" y="74" width="1" height="35" fill="#000"/>
<rect x="529" y="80" width="5" height="6" fill="#000"/>
<rect x="539" y="32" width="1" height="55" fill="#000"/>
<rect x="537" y="37" width="5" height="50" fill="#000"/>
<rect x="538" y="38" width="3" height="48" fill="#fff"/>
<rect x="547" y="20" width="1" height="30" fill="#000"/>
<rect x="545" y="36" width="5" height="4" fill="#000"/>
<rect x="555" y="32" width="1" height="68" fill="#000"/>
<rect x="553" y="38" width="5" height="38" fill="#000"/>
<rect x="563" y="71" width="1" height="17" fill="#000"/>
<rect x="561" y="75" width="5" height="7" fill="#000"/>
<rect x="571" y="75" width="1" height="27" fill="#000"/>
<rect x="569" y="81" width="5" height="14" fill="#000"/>
<rect x="579" y="90" width="1" height="9" fill="#000"/>
<rect x="577" y="96" width="5" height="3" fill="#000"/>
<rect x="578" y="97" width="3" height="1" fill="#fff"/>
<rect x="587" y="81" width="1" height="17" fill="#000"/>
<rect x="585" y="84" width="5" height="13" fill="#000"/>
<rect x="586" y="85" width="3" height="11" fill="#fff"/>
<rect x="595" y="70" width="1" height="23" fill="#000"/>
<rect x="593" y="80" width="5" height="3" fill="#000"/>
<rect x="594" y="81" width="3" height="1" fill="#fff"/>
<rect x="603" y="73" width="1" height="24" fill="#000"/>
<rect x="601" y="73" width="5" height="8" fill="#000"/>
<rect x="602" y="74" width="3" height="6" fill="#fff"/>
<rect x="611" y="58" width="1" height="21" fill="#000"/>
<rect x="609" y="59" width="5" height="14" fill="#000"/>
<rect x="610" y="60" width="3" height="12" fill="#fff"/>
<rect x="619" y="50" width="1" height="19" fill="#000"/>
<rect x="617" y="58" width="5" height="7" fill="#000"/>
<rect x="627" y="63" width="1" height="11" fill="#000"/>
<rect x="625" y="64" width="5" height="8" fill="#000"/>
<rect x="635" y="66" width="1" height="22" fill="#000"/>
<rect x="633" y="70" width="5" height="16" fill="#000"/>
<rect x="643" y="73" width="1" height="27" fill="#000"/>
<rect x="641" y="86" width="5" height="10" fill="#000"/>
<rect x="651" y="81" width="1" height="35" fill="#000"/>
<rect x="649" y="95" width="5" height="15" fill="#000"/>
<rect x="659" y="95" width="1" height="29" fill="#000"/>
<rect x="657" y="108" width="5" height="14" fill="#000"/>
<rect x="667" y="118" width="1" height="33" fill="#000"/>
<rect x="665" y="122" width="5" height="3" fill="#000"/>
<rect x="675" y="110" width="1" height="23" fill="#000"/>
<rect x="673" y="123" width="5" height="2" fill="#000"/>
<rect x="683" y="111" width="1" height="18" fill="#000"/>
<rect x="681" y="123" width="5" height="4" fill="#000"/>
<rect x="691" y="126" width="1" height="43" fill="#000"/>
<rect x="689" y="126" width="5" height="39" fill="#000"/>
<rect x="699" y="150" width="1" height="70" fill="#000"/>
<rect x="697" y="164" width="5" height="39" fill="#000"/>
<rect x="707" y="197" width="1" height="41" fill="#000"/>
<rect x="705" y="203" width="5" height="15" fill="#000"/>
<rect x="715" y="209" width="1" height="63" fill="#000"/>
<rect x="713" y="217" width="5" height="41" fill="#000"/>
<rect x="723" y="239" width="1" height="29" fill="#000"/>
<rect x="721" y="253" width="5" height="5" fill="#000"/>
<rect x="722" y="254" width="3" height="3" fill="#fff"/>
<rect x="731" y="225" width="1" height="34" fill="#000"/>
<rect x="729" y="234" width="5" height="21" fill="#000"/>
<rect x="730" y="235" width="3" height="19" fill="#fff"/>
<rect x="739" y="219" width="1" height="53" fill="#000"/>
<rect x="737" y="233" width="5" height="31" fill="#000"/>
<rect x="747" y="249" width="1" height="18" fill="#000"/>
<rect x="745" y="256" width="5" height="8" fill="#000"/>
<rect x="746" y="257" width="3" height="6" fill="#fff"/>
<rect x="755" y="248" width="1" height="16" fill="#000"/>
<rect x="753" y="250" width="5" height="7" fill="#000"/>
<rect x="754" y="251" width="3" height="5" fill="#fff"/>
<rect x="763" y="238" width="1" height="19" fill="#000"/>
<rect x="761" y="239" width="5" height="11" fill="#000"/>
<rect x="762" y="240" width="3" height="9" fill="#fff"/>
<rect x="771" y="209" width="1" height="36" fill="#000"/>
<rect x="769" y="222" width="5" height="18" fill="#000"/>
<rect x="770" y="223" width="3" height="16" fill="#fff"/>
<rect x="779" y="214" width="1" height="28" fill="#000"/>
<rect x="777" y="224" width="5" height="14" fill="#000"/>
<rect x="787" y="231" width="1" height="33" fill="#000"/>
<rect x="785" y="237" width="5" height="15" fill="#000"/>
<rect x="795" y="220" width="1" height="36" fill="#000"/>
<rect x="793" y="221" width="5" height="30" fill="#000"/>
<rect x="794" y="222" width="3" height="28" fill="#fff"/>
<rect x="803" y="215" width="1" height="12" fill="#000"/>
<rect x="801" y="222" width="5" height="4" fill="#000"/>
<rect x="811" y="221" width="1" height="16" fill="#000"/>
<rect x="809" y="225" width="5" height="6" fill="#000"/>
<rect x="819" y="210" width="1" height="24" fill="#000"/>
<rect x="817" y="230" width="5" height="4" fill="#000"/>
<rect x="827" y="217" width="1" height="34" fill="#000"/>
<rect x="825" y="223" width="5" height="10" fill="#000"/>
<rect x="826" y="224" width="3" height="8" fill="#fff"/>
<rect x="835" y="207" width="1" height="24" fill="#000"/>
<rect x="833" y="214" width="5" height="8" fill="#000"/>
<rect x="834" y="215" width="3" height="6" fill="#fff"/>
<rect x="843" y="208" width="1" height="28" fill="#000"/>
<rect x="841" y="213" width="5" height="12" fill="#000"/>
<rect x="851" y="217" width="1" height="25" fill="#000"/>
<rect x="849" y="223" width="5" height="10" fill="#000"/>
<rect x="859" y="222" width="1" height="14" fill="#000"/>
<rect x="857" y="232" width="5" height="1" fill="#000"/>
<rect x="867" y="203" width="1" height="31" fill="#000"/>
<rect x="865" y="207" width="5" height="26" fill="#000"/>
<rect x="866" y="208" width="3" height="24" fill="#fff"/>
<rect x="875" y="196" width="1" height="38" fill="#000"/>
<rect x="873" y="207" width="5" height="18" fill="#000"/>
<rect x="883" y="212" width="1" height="26" fill="#000"/>
<rect x="881" y="222" width="5" height="9" fill="#000"/>
<rect x="891" y="214" width="1" height="60" fill="#000"/>
<rect x="889" y="229" width="5" height="2" fill="#000"/>
<rect x="899" y="216" width="1" height="101" fill="#000"/>
<rect x="897" y="230" width="5" height="74" fill="#000"/>
<rect x="907" y="260" width="1" height="63" fill="#000"/>
<rect x="905" y="262" width="5" height="43" fill="#000"/>
<rect x="906" y="263" width="3" height="41" fill="#fff"/>
<rect x="915" y="219" width="1" height="45" fill="#000"/>
<rect x="913" y="239" width="5" height="24" fill="#000"/>
<rect x="914" y="240" width="3" height="22" fill="#fff"/>
<rect x="923" y="233" width="1" height="39" fill="#000"/>
<rect x="921" y="237" width="5" height="19" fill="#000"/>
<rect x="931" y="254" width="1" height="19" fill="#000"/>
<rect x="929" y="256" width="5" height="13" fill="#000"/>
<rect x="939" y="260" width="1" height="11" fill="#000"/>
<rect x="937" y="262" width="5" height="7" fill="#000"/>
<rect x="938" y="263" width="3" height="5" fill="#fff"/>
<rect x="947" y="248" width="1" height="25" fill="#000"/>
<rect x="945" y="257" width="5" height="7" fill="#000"/>
<rect x="946" y="258" width="3" height="5" fill="#fff"/>
<rect x="955" y="236" width="1" height="30" fill="#000"/>
<rect x="953" y="239" width="5" height="18" fill="#000"/>
<rect x="954" y="240" width="3" height="16" fill="#fff"/>
<rect x="963" y="226" width="1" height="14" fill="#000"/>
<rect x="961" y="237" width="5" height="3" fill="#000"/>
<rect x="962" y="238" width="3" height="1" fill="#fff"/>
<rect x="971" y="230" width="1" height="13" fill="#000"/>
<rect x="969" y="238" width="5" height="2" fill="#000"/>
<rect x="979" y="236" width="1" height="6" fill="#000"/>
<rect x="977" y="240" width="5" height="1" fill="#000"/>
<rect x="987" y="229" width="1" height="14" fill="#000"/>
<rect x="985" y="232" width="5" height="11" fill="#000"/>
<rect x="986" y="233" width="3" height="9" fill="#fff"/>
</g>
<path d="M609 358h6M538 359h5M605 359h4M615 359h8M536 360h2M543 360h6M602 360h3M623 360h6M534 361h2M549 361h4M599 361h3M629 361h4M532 362h2M553 362h6M597 362h2M633 362h4M529 363h3M559 363h8M583 363h14M637 363h4M514 364h5M525 364h4M567 364h16M641 364h4M355 365h1M511 365h3M519 365h6M645 365h2M354 366h1M356 366h1M509 366h2M647 366h3M353 367h1M357 367h1M506 367h3M650 367h2M352 368h1M358 368h1M409 368h12M433 368h6M503 368h3M652 368h2M351 369h1M359 369h2M393 369h6M405 369h4M421 369h4M429 369h4M439 369h6M457 369h4M479 369h8M501 369h2M654 369h1M666 369h5M351 370h1M361 370h1M389 370h4M399 370h6M425 370h4M445 370h4M453 370h4M461 370h2M473 370h6M487 370h14M655 370h2M663 370h3M671 370h6M350 371h1M362 371h1M375 371h14M449 371h4M463 371h3M469 371h4M657 371h2M661 371h2M677 371h2M349 372h1M363 372h12M466 372h3M659 372h2M679 372h3M348 373h1M682 373h2M347 374h1M684 374h2M346 375h1M686 375h1M345 376h1M687 376h2M183 377h8M344 377h1M689 377h2M179 378h4M191 378h8M215 378h6M234 378h5M343 378h1M691 378h1M178 379h1M199 379h16M221 379h2M231 379h3M239 379h8M343 379h1M692 379h2M178 380h1M223 380h3M229 380h2M247 380h6M282 380h3M342 380h1M694 380h2M177 381h1M226 381h3M253 381h4M279 381h3M285 381h2M297 381h4M341 381h1M696 381h2M176 382h1M257 382h4M277 382h2M287 382h3M293 382h4M301 382h2M340 382h1M698 382h10M954 382h3M176 383h1M261 383h4M271 383h6M290 383h3M303 383h3M339 383h1M708 383h2M730 383h2M794 383h3M951 383h3M957 383h2M175 384h1M265 384h6M306 384h2M337 384h2M710 384h2M727 384h3M732 384h2M767 384h6M792 384h2M797 384h4M833 384h6M949 384h2M959 384h3M174 385h1M308 385h2M335 385h2M712 385h2M725 385h2M734 385h1M759 385h8M773 385h4M790 385h2M801 385h6M829 385h4M839 385h8M866 385h3M943 385h6M962 385h5M174 386h1M310 386h1M322 386h3M334 386h1M714 386h11M735 386h2M751 386h8M777 386h6M788 386h2M807 386h6M825 386h4M847 386h6M863 386h3M869 386h4M890 386h2M907 386h20M935 386h8M967 386h8M173 387h1M311 387h2M319 387h3M325 387h4M332 387h2M737 387h2M743 387h8M783 387h5M813 387h4M821 387h4M853 387h4M861 387h2M873 387h4M888 387h2M892 387h1M905 387h2M927 387h8M975 387h12M172 388h1M313 388h2M317 388h2M329 388h3M739 388h4M817 388h4M857 388h4M877 388h2M886 388h2M893 388h2M904 388h1M172 389h1M315 389h2M879 389h3M884 389h2M895 389h1M903 389h1M171 390h1M882 390h2M896 390h1M901 390h2M169 391h2M897 391h2M900 391h1M168 392h1M899 392h1M167 393h1M165 394h2M164 395h1M162 396h2M159 397h3M157 398h2M155 399h2M154 400h1M154 401h1M153 402h1M152 403h1M152 404h1M151 405h1M150 406h1M150 407h1M149 408h1M148 409h1M148 410h1M147 411h1M145 412h2M114 413h2M130 413h2M144 413h1M111 414h3M116 414h2M128 414h2M132 414h2M143 414h1M109 415h2M118 415h2M126 415h2M134 415h2M141 415h2M106 416h3M120 416h2M124 416h2M136 416h2M140 416h1M103 417h3M122 417h2M138 417h2M101 418h2M98 419h3M95 420h3M15 421h14M49 421h4M93 421h2M9 422h6M29 422h2M45 422h4M53 422h4M89 422h4M5 423h4M31 423h3M39 423h6M57 423h4M73 423h6M85 423h4M3 424h2M34 424h5M61 424h4M69 424h4M79 424h6M65 425h4" stroke="#20b2aa" stroke-width="1" fill="none" shape-rendering="crispEdges" transform="translate(0,0.5)"/>
<g shape-rendering="crispEdges" fill="#000">
<rect x="2" y="2" width="1258" height="1"/>
<rect x="2" y="351" width="1258" height="1"/>
<rect x="2" y="2" width="1" height="350"/>
<rect x="1259" y="2" width="1" height="350"/>
<rect x="2" y="353" width="1258" height="1"/>
<rect x="2" y="429" width="1258" height="1"/>
<rect x="2" y="353" width="1" height="77"/>
<rect x="1259" y="353" width="1" height="77"/>
<rect x="1260" y="8" width="2" height="1"/>
<rect x="1260" y="42" width="2" height="1"/>
<rect x="1260" y="76" width="2" height="1"/>
<rect x="1260" y="109" width="2" height="1"/>
<rect x="1260" y="143" width="2" height="1"/>
<rect x="1260" y="177" width="2" height="1"/>
<rect x="1260" y="211" width="2" height="1"/>
<rect x="1260" y="245" width="2" height="1"/>
<rect x="1260" y="279" width="2" height="1"/>
<rect x="1260" y="313" width="2" height="1"/>
<rect x="1260" y="347" width="2" height="1"/>
<rect x="1260" y="355" width="2" height="1"/>
<rect x="1260" y="428" width="2" height="1"/>
<rect x="3" y="430" width="1" height="3"/>
<rect x="67" y="430" width="1" height="3"/>
<rect x="131" y="430" width="1" height="3"/>
<rect x="195" y="430" width="1" height="3"/>
<rect x="259" y="430" width="1" height="3"/>
<rect x="323" y="430" width="1" height="3"/>
<rect x="387" y="430" width="1" height="3"/>
<rect x="451" y="430" width="1" height="3"/>
<rect x="515" y="430" width="1" height="3"/>
<rect x="579" y="430" width="1" height="3"/>
<rect x="643" y="430" width="1" height="3"/>
<rect x="707" y="430" width="1" height="3"/>
<rect x="771" y="430" width="1" height="3"/>
<rect x="835" y="430" width="1" height="3"/>
<rect x="899" y="430" width="1" height="3"/>
<rect x="963" y="430" width="1" height="3"/>
<rect x="1261" y="227" width="36" height="11"/>
</g>
<text transform="translate(1265,12) scale(0.94,1)" xml:space="preserve">110.15</text>
<text transform="translate(1265,46) scale(0.94,1)" xml:space="preserve">109.10</text>
<text transform="translate(1265,80) scale(0.94,1)" xml:space="preserve">108.05</text>
<text transform="translate(1265,113) scale(0.94,1)" xml:space="preserve">107.05</text>
<text transform="translate(1265,147) scale(0.94,1)" xml:space="preserve">106.00</text>
<text transform="translate(1265,181) scale(0.94,1)" xml:space="preserve">104.95</text>
<text transform="translate(1265,215) scale(0.94,1)" xml:space="preserve">103.90</text>
<text transform="translate(1265,249) scale(0.94,1)" xml:space="preserve">102.85</text>
<text transform="translate(1265,283) scale(0.94,1)" xml:space="preserve">101.80</text>
<text transform="translate(1265,317) scale(0.94,1)" xml:space="preserve">100.75</text>
<text transform="translate(1265,351) scale(0.94,1)" xml:space="preserve">99.70</text>
<text transform="translate(1265,236) scale(0.94,1)" xml:space="preserve" style="fill:#fff;stroke:#fff">103.24</text>
<text transform="translate(1263,364) scale(0.94,1)" xml:space="preserve">202214</text>
<text transform="translate(1263,426) scale(0.94,1)" xml:space="preserve">181281</text>
<text transform="translate(19,14) scale(0.94,1)" xml:space="preserve">#CL,H1</text>
<text transform="translate(57.2,14) scale(0.94,1)" xml:space="preserve">102.96 103.36 102.95 103.24</text>
<text transform="translate(8,366) scale(0.94,1)" xml:space="preserve">A/D 193128</text>
<text transform="translate(2,442) scale(0.94,1)" xml:space="preserve">12 Apr 2022</text>
<text transform="translate(66,442) scale(0.94,1)" xml:space="preserve">13 Apr 07:00</text>
<text transform="translate(130,442) scale(0.94,1)" xml:space="preserve">13 Apr 15:00</text>
<text transform="translate(194,442) scale(0.94,1)" xml:space="preserve">13 Apr 23:00</text>
<text transform="translate(258,442) scale(0.94,1)" xml:space="preserve">14 Apr 08:00</text>
<text transform="translate(322,442) scale(0.94,1)" xml:space="preserve">14 Apr 16:00</text>
<text transform="translate(386,442) scale(0.94,1)" xml:space="preserve">15 Apr 04:00</text>
<text transform="translate(450,442) scale(0.94,1)" xml:space="preserve">18 Apr 08:00</text>
<text transform="translate(514,442) scale(0.94,1)" xml:space="preserve">18 Apr 16:00</text>
<text transform="translate(578,442) scale(0.94,1)" xml:space="preserve">19 Apr 01:00</text>
<text transform="translate(642,442) scale(0.94,1)" xml:space="preserve">19 Apr 09:00</text>
<text transform="translate(706,442) scale(0.94,1)" xml:space="preserve">19 Apr 17:00</text>
<text transform="translate(770,442) scale(0.94,1)" xml:space="preserve">20 Apr 02:00</text>
<text transform="translate(834,442) scale(0.94,1)" xml:space="preserve">20 Apr 10:00</text>
<text transform="translate(898,442) scale(0.94,1)" xml:space="preserve">20 Apr 18:00</text>
<text transform="translate(962,442) scale(0.94,1)" xml:space="preserve">21 Apr 05:00</text>
</svg></body></html>
